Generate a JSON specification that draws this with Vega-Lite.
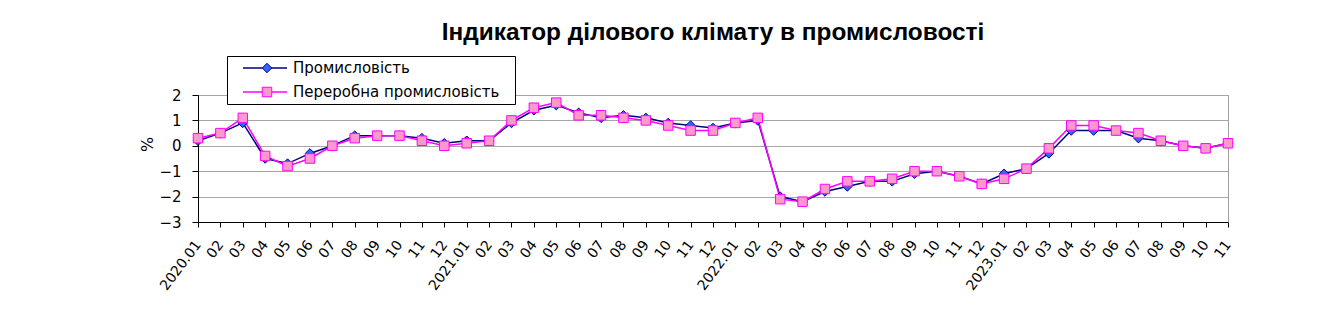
{
  "$schema": "https://vega.github.io/schema/vega-lite/v6.json",
  "width": 1030,
  "height": 127,
  "autosize": {"type": "none"},
  "padding": {"left": 198, "top": 95, "right": 91, "bottom": 108},
  "background": "white",
  "title": {
    "text": "Індикатор ділового клімату в промисловості",
    "font": "Liberation Sans",
    "fontSize": 24.4,
    "fontWeight": "bold",
    "color": "black",
    "anchor": "middle",
    "offset": 10
  },
  "config": {
    "view": {"stroke": "#A0A0A0", "strokeWidth": 1},
    "axis": {
      "labelFont": "DejaVu Sans",
      "labelFontSize": 14,
      "labelColor": "black",
      "domainColor": "black",
      "tickColor": "black",
      "titleFont": "DejaVu Sans",
      "titleFontWeight": "normal",
      "titleColor": "black"
    }
  },
  "data": {
    "values": [
      {"m": "2020.01", "Промисловість": 0.2, "Переробна промисловість": 0.3},
      {"m": "2020.02", "Промисловість": 0.5, "Переробна промисловість": 0.5},
      {"m": "2020.03", "Промисловість": 0.9, "Переробна промисловість": 1.1},
      {"m": "2020.04", "Промисловість": -0.5, "Переробна промисловість": -0.4},
      {"m": "2020.05", "Промисловість": -0.7, "Переробна промисловість": -0.8},
      {"m": "2020.06", "Промисловість": -0.3, "Переробна промисловість": -0.5},
      {"m": "2020.07", "Промисловість": 0.0, "Переробна промисловість": 0.0},
      {"m": "2020.08", "Промисловість": 0.4, "Переробна промисловість": 0.3},
      {"m": "2020.09", "Промисловість": 0.4, "Переробна промисловість": 0.4},
      {"m": "2020.10", "Промисловість": 0.4, "Переробна промисловість": 0.4},
      {"m": "2020.11", "Промисловість": 0.3, "Переробна промисловість": 0.2},
      {"m": "2020.12", "Промисловість": 0.1, "Переробна промисловість": 0.0},
      {"m": "2021.01", "Промисловість": 0.2, "Переробна промисловість": 0.1},
      {"m": "2021.02", "Промисловість": 0.2, "Переробна промисловість": 0.2},
      {"m": "2021.03", "Промисловість": 0.9, "Переробна промисловість": 1.0},
      {"m": "2021.04", "Промисловість": 1.4, "Переробна промисловість": 1.5},
      {"m": "2021.05", "Промисловість": 1.6, "Переробна промисловість": 1.7},
      {"m": "2021.06", "Промисловість": 1.3, "Переробна промисловість": 1.2},
      {"m": "2021.07", "Промисловість": 1.1, "Переробна промисловість": 1.2},
      {"m": "2021.08", "Промисловість": 1.2, "Переробна промисловість": 1.1},
      {"m": "2021.09", "Промисловість": 1.1, "Переробна промисловість": 1.0},
      {"m": "2021.10", "Промисловість": 0.9, "Переробна промисловість": 0.8},
      {"m": "2021.11", "Промисловість": 0.8, "Переробна промисловість": 0.6},
      {"m": "2021.12", "Промисловість": 0.7, "Переробна промисловість": 0.6},
      {"m": "2022.01", "Промисловість": 0.9, "Переробна промисловість": 0.9},
      {"m": "2022.02", "Промисловість": 1.0, "Переробна промисловість": 1.1},
      {"m": "2022.03", "Промисловість": -2.0, "Переробна промисловість": -2.1},
      {"m": "2022.04", "Промисловість": -2.2, "Переробна промисловість": -2.2},
      {"m": "2022.05", "Промисловість": -1.8, "Переробна промисловість": -1.7},
      {"m": "2022.06", "Промисловість": -1.6, "Переробна промисловість": -1.4},
      {"m": "2022.07", "Промисловість": -1.4, "Переробна промисловість": -1.4},
      {"m": "2022.08", "Промисловість": -1.4, "Переробна промисловість": -1.3},
      {"m": "2022.09", "Промисловість": -1.1, "Переробна промисловість": -1.0},
      {"m": "2022.10", "Промисловість": -1.0, "Переробна промисловість": -1.0},
      {"m": "2022.11", "Промисловість": -1.2, "Переробна промисловість": -1.2},
      {"m": "2022.12", "Промисловість": -1.5, "Переробна промисловість": -1.5},
      {"m": "2023.01", "Промисловість": -1.1, "Переробна промисловість": -1.3},
      {"m": "2023.02", "Промисловість": -0.9, "Переробна промисловість": -0.9},
      {"m": "2023.03", "Промисловість": -0.3, "Переробна промисловість": -0.1},
      {"m": "2023.04", "Промисловість": 0.6, "Переробна промисловість": 0.8},
      {"m": "2023.05", "Промисловість": 0.6, "Переробна промисловість": 0.8},
      {"m": "2023.06", "Промисловість": 0.6, "Переробна промисловість": 0.6},
      {"m": "2023.07", "Промисловість": 0.3, "Переробна промисловість": 0.5},
      {"m": "2023.08", "Промисловість": 0.2, "Переробна промисловість": 0.2},
      {"m": "2023.09", "Промисловість": 0.0, "Переробна промисловість": 0.0},
      {"m": "2023.10", "Промисловість": -0.1, "Переробна промисловість": -0.1},
      {"m": "2023.11", "Промисловість": 0.1, "Переробна промисловість": 0.1}
    ]
  },
  "transform": [
    {"fold": ["Промисловість", "Переробна промисловість"], "as": ["s", "v"]}
  ],
  "encoding": {
    "x": {
      "field": "m",
      "type": "ordinal",
      "scale": {"type": "point", "padding": 0},
      "axis": {
        "title": null,
        "labelExpr": "substring(datum.value, 5) == '01' ? datum.value : substring(datum.value, 5)",
        "labelAngle": -53,
        "labelPadding": 15,
        "tickSize": 5,
        "grid": false,
        "labelOverlap": false
      }
    },
    "y": {
      "field": "v",
      "type": "quantitative",
      "scale": {"domain": [-3, 2], "nice": false, "zero": false},
      "axis": {
        "title": "%",
        "values": [-3, -2, -1, 0, 1, 2],
        "grid": true,
        "gridColor": "#A6A6A6",
        "tickSize": 6,
        "labelPadding": 11,
        "labelFontSize": 15,
        "titleFontSize": 16,
        "titleX": -51,
        "titleY": 49,
        "titleAlign": "center",
        "titleBaseline": "middle",
        "titleAngle": -90
      }
    }
  },
  "layer": [
    {
      "mark": {"type": "line", "strokeWidth": 1.5},
      "encoding": {
        "color": {
          "field": "s",
          "type": "nominal",
          "scale": {"domain": ["Промисловість", "Переробна промисловість"], "range": ["#000080", "#FF00FF"]},
          "legend": {
            "orient": "none",
            "legendX": 29,
            "legendY": -39,
            "title": null,
            "strokeColor": "black",
            "fillColor": "white",
            "cornerRadius": 0,
            "padding": 4,
            "rowPadding": 8,
            "clipHeight": 16,
            "symbolType": "stroke",
            "symbolSize": 1936,
            "symbolStrokeWidth": 1.5,
            "symbolOffset": 11,
            "labelOffset": 5,
            "labelLimit": 400,
            "labelFont": "DejaVu Sans",
            "labelFontSize": 15,
            "labelColor": "black",
            "labelExpr": "datum.label + '\u2800\u00a0'"
          }
        }
      }
    },
    {
      "mark": {"type": "point", "filled": true, "size": 90, "strokeWidth": 1, "opacity": 1},
      "encoding": {
        "shape": {
          "field": "s", "type": "nominal",
          "sort": ["Промисловість", "Переробна промисловість"],
          "scale": {"range": ["diamond", "square"]},
          "legend": {
            "orient": "none",
            "legendX": 29,
            "legendY": -39,
            "title": null,
            "padding": 4,
            "rowPadding": 8,
            "clipHeight": 16,
            "symbolSize": 90,
            "symbolStrokeWidth": 1,
            "symbolFillColor": {"expr": "datum.value == 'Промисловість' ? '#3366FF' : '#FF99CC'"},
            "symbolStrokeColor": {"expr": "datum.value == 'Промисловість' ? '#000080' : '#FF00FF'"},
            "symbolOpacity": 1,
            "symbolOffset": 28.5,
            "labelOffset": 5,
            "labelLimit": 400,
            "labelFont": "DejaVu Sans",
            "labelFontSize": 15,
            "labelOpacity": 0,
            "labelExpr": "''"
          }
        },
        "fill": {
          "field": "s", "type": "nominal",
          "scale": {"domain": ["Промисловість", "Переробна промисловість"], "range": ["#3366FF", "#FF99CC"]},
          "legend": null
        },
        "stroke": {
          "field": "s", "type": "nominal",
          "scale": {"domain": ["Промисловість", "Переробна промисловість"], "range": ["#000080", "#FF00FF"]},
          "legend": null
        }
      }
    }
  ]
}
